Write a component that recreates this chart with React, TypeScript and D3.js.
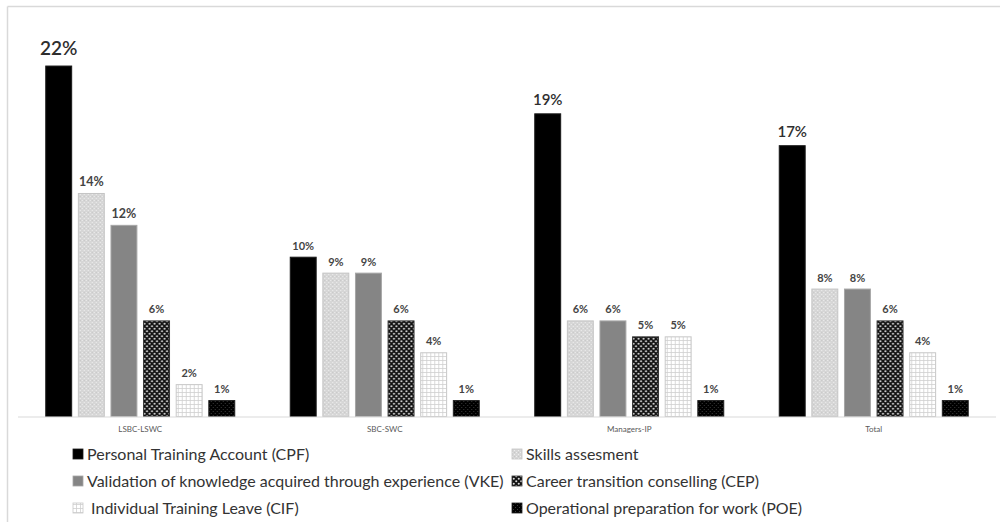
import React from "react";
import * as d3 from "d3";

const categories = ["LSBC-LSWC", "SBC-SWC", "Managers-IP", "Total"];
const seriesNames = [
  "Personal Training Account (CPF)",
  "Skills assesment",
  "Validation of knowledge acquired through experience (VKE)",
  "Career transition conselling (CEP)",
  " Individual Training Leave (CIF)",
  "Operational preparation for work (POE)",
];
const cpf = [22, 10, 19, 17];
const skills = [14, 9, 6, 8];
const vke = [12, 9, 6, 8];
const cep = [6, 6, 5, 6];
const cif = [2, 4, 5, 4];
const poe = [1, 1, 1, 1];
const seriesValues = [cpf, skills, vke, cep, cif, poe];

const W = 1000;
const H = 522;
const FONT = "Lato, 'Open Sans', sans-serif";

const fills = ["#000000", "url(#pSkills)", "#858585", "url(#pCep)", "url(#pCif)", "url(#pPoe)"];
const strokes = ["#1a1a1a", "#c4c4c4", "#a6a6a6", "#333333", "#c8c8c8", "#222222"];

export default function App() {
  const baseY = 416.5;
  const x0 = d3
    .scaleBand<string>()
    .domain(categories)
    .range([18, 996])
    .paddingInner(0.227)
    .paddingOuter(0.1135);
  const x1 = d3
    .scaleBand<number>()
    .domain(d3.range(seriesNames.length))
    .range([0, x0.bandwidth()])
    .paddingInner(0.205)
    .paddingOuter(0);
  const y = d3.scaleLinear().domain([0, 25]).range([baseY, baseY - 25 * 15.93]);

  const labelSize = (v: number) => (v >= 20 ? 19 : v >= 15 ? 15 : v >= 12 ? 12.5 : 11);
  const labelGap = (v: number) => (v >= 20 ? 11 : v >= 15 ? 9 : 7.5);

  const legendRows = [454, 481, 508];
  const legendCols = [73, 512];

  return (
    <svg
      width={W}
      height={H}
      style={{ position: "absolute", left: 0, top: 0, background: "#fff" }}
      fontFamily={FONT}
    >
      <defs>
        <pattern id="pSkills" width="4" height="4" patternUnits="userSpaceOnUse">
          <rect width="4" height="4" fill="#d6d6d6" />
          <rect x="0" y="0" width="1" height="1" fill="#eeeeee" />
          <rect x="2" y="2" width="1" height="1" fill="#eeeeee" />
          <rect x="2" y="0" width="1" height="1" fill="#c6c6c6" />
        </pattern>
        <pattern id="pCep" width="5" height="5" patternUnits="userSpaceOnUse">
          <rect width="5" height="5" fill="#111" />
          <circle cx="1.25" cy="1.25" r="1.05" fill="#d8d8d8" />
          <circle cx="3.75" cy="3.75" r="1.05" fill="#d8d8d8" />
        </pattern>
        <pattern id="pCif" width="4" height="4" patternUnits="userSpaceOnUse">
          <rect width="4" height="4" fill="#ffffff" />
          <rect x="0" y="0" width="4" height="0.8" fill="#d0d0d0" />
          <rect x="0" y="0" width="0.8" height="4" fill="#d0d0d0" />
        </pattern>
        <pattern id="pPoe" width="4" height="4" patternUnits="userSpaceOnUse">
          <rect width="4" height="4" fill="#000" />
          <rect x="1" y="1" width="1" height="1" fill="#3a3a3a" />
          <rect x="3" y="3" width="1" height="1" fill="#3a3a3a" />
        </pattern>
      </defs>

      {/* frame */}
      <line x1={7.5} y1={6.5} x2={W} y2={6.5} stroke="#d9d9d9" strokeWidth={1.5} />
      <line x1={7.5} y1={6.5} x2={7.5} y2={H} stroke="#d9d9d9" strokeWidth={1.5} />

      {/* bars */}
      {categories.map((c, ci) => (
        <g key={c} transform={`translate(${x0(c)},0)`}>
          {seriesValues.map((vals, si) => {
            const v = vals[ci];
            const bx = x1(si)!;
            const by = y(v);
            return (
              <g key={si}>
                <rect
                  x={bx}
                  y={by}
                  width={x1.bandwidth()}
                  height={baseY - by}
                  fill={fills[si]}
                  stroke={strokes[si]}
                  strokeWidth={1}
                />
                <text
                  x={bx + x1.bandwidth() / 2}
                  y={by - labelGap(v)}
                  textAnchor="middle"
                  fontSize={labelSize(v)}
                  fontWeight={v >= 15 ? 600 : 700}
                  fill={v >= 15 ? "#2e2e2e" : "#444"}
                >
                  {v}%
                </text>
              </g>
            );
          })}
        </g>
      ))}

      {/* axis */}
      <line x1={18} y1={baseY + 0.5} x2={996} y2={baseY + 0.5} stroke="#d9d9d9" strokeWidth={1} />
      {categories.map((c) => (
        <text
          key={c}
          x={x0(c)! + x0.bandwidth() / 2}
          y={432}
          textAnchor="middle"
          fontSize={8}
          fill="#595959"
        >
          {c}
        </text>
      ))}

      {/* legend */}
      {seriesNames.map((name, i) => {
        const lx = legendCols[i % 2];
        const ly = legendRows[Math.floor(i / 2)];
        return (
          <g key={name}>
            <rect
              x={lx}
              y={ly - 5}
              width={10}
              height={10}
              fill={fills[i]}
              stroke={strokes[i]}
              strokeWidth={0.8}
            />
            <text
              x={lx + 14}
              y={ly + 5.5}
              fontSize={16}
              fill="#333"
              style={{ whiteSpace: "pre" }}
            >
              {name}
            </text>
          </g>
        );
      })}
    </svg>
  );
}
